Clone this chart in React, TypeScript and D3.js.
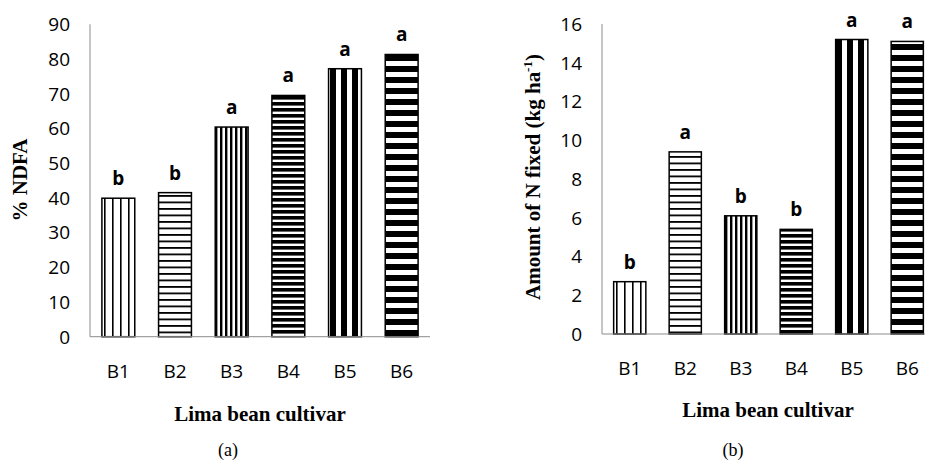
import React, { useEffect, useRef } from 'react';
import * as d3 from 'd3';

const cultivars = ['B1', 'B2', 'B3', 'B4', 'B5', 'B6'];
const ndfa = [39.9, 41.5, 60.4, 69.5, 77.2, 81.3];
const ndfaLetters = ['b', 'b', 'a', 'a', 'a', 'a'];
const nFixed = [2.7, 9.4, 6.1, 5.4, 15.2, 15.1];
const nFixedLetters = ['b', 'a', 'b', 'b', 'a', 'a'];
const ndfaTicks = [0, 10, 20, 30, 40, 50, 60, 70, 80, 90];
const nFixedTicks = [0, 2, 4, 6, 8, 10, 12, 14, 16];

// hatch per cultivar: direction, period, dark stripe width
const hatches = [
  { dir: 'v', period: 8, w: 1.6 },
  { dir: 'h', period: 6.5, w: 1.8 },
  { dir: 'v', period: 5, w: 2.4 },
  { dir: 'h', period: 6, w: 3.6 },
  { dir: 'v', period: 11, w: 6 },
  { dir: 'h', period: 11, w: 6 },
];

const tickFont = '"Open Sans", Roboto, sans-serif';
const serif = '"Liberation Serif", "Times New Roman", serif';

function drawPanel(svg, opts) {
  const { id, values, letters, ticks, domainMax, x0, x1, yTop, yBase } = opts;
  const defs = svg.append('defs');
  hatches.forEach((h, i) => {
    const p = defs.append('pattern')
      .attr('id', `${id}-hatch-${i}`)
      .attr('patternUnits', 'userSpaceOnUse')
      .attr('width', h.dir === 'v' ? h.period : 10)
      .attr('height', h.dir === 'h' ? h.period : 10);
    p.append('rect').attr('width', 20).attr('height', 20).attr('fill', '#fff');
    if (h.dir === 'v') {
      p.append('rect').attr('x', 0).attr('y', 0).attr('width', h.w).attr('height', 10).attr('fill', '#000');
    } else {
      p.append('rect').attr('x', 0).attr('y', 0).attr('width', 10).attr('height', h.w).attr('fill', '#000');
    }
  });

  const x = d3.scaleBand().domain(cultivars).range([x0, x1]).paddingInner(0.42).paddingOuter(0.21);
  const y = d3.scaleLinear().domain([0, domainMax]).range([yBase, yTop]);

  const g = svg.append('g');

  g.selectAll('.ytick').data(ticks).enter().append('text')
    .attr('x', x0 - 20)
    .attr('y', d => y(d))
    .attr('dy', '0.36em')
    .attr('text-anchor', 'end')
    .attr('font-family', tickFont)
    .attr('font-size', 19)
    .attr('fill', '#000')
    .text(d => d);

  g.selectAll('.bar').data(values).enter().append('rect')
    .attr('x', (d, i) => x(cultivars[i]))
    .attr('y', d => y(d))
    .attr('width', x.bandwidth())
    .attr('height', d => yBase - y(d))
    .attr('fill', (d, i) => `url(#${id}-hatch-${i})`)
    .attr('stroke', '#000')
    .attr('stroke-width', 1.5);

  g.selectAll('.letter').data(values).enter().append('text')
    .attr('x', (d, i) => x(cultivars[i]) + x.bandwidth() / 2)
    .attr('y', d => y(d) - 13)
    .attr('text-anchor', 'middle')
    .attr('font-family', tickFont)
    .attr('font-weight', 700)
    .attr('font-size', 19)
    .text((d, i) => letters[i]);

  g.append('line').attr('x1', x0).attr('x2', x0).attr('y1', yTop).attr('y2', yBase)
    .attr('stroke', '#8c8c8c').attr('stroke-width', 1);
  g.append('line').attr('x1', x0).attr('x2', x1).attr('y1', yBase).attr('y2', yBase)
    .attr('stroke', '#8c8c8c').attr('stroke-width', 1);

  g.selectAll('.xtick').data(cultivars).enter().append('text')
    .attr('x', d => x(d) + x.bandwidth() / 2)
    .attr('y', opts.xTickY)
    .attr('text-anchor', 'middle')
    .attr('font-family', tickFont)
    .attr('font-size', 19)
    .text(d => d);

  return g;
}

export default function App() {
  const svgRef = useRef(null);

  useEffect(() => {
    const svg = d3.select(svgRef.current);
    svg.selectAll('*').remove();

    const ga = drawPanel(svg, {
      id: 'a', values: ndfa, letters: ndfaLetters, ticks: ndfaTicks, domainMax: 90,
      x0: 90, x1: 430, yTop: 24.3, yBase: 336.7, xTickY: 378,
    });
    ga.append('text')
      .attr('transform', 'translate(27,180) rotate(-90)')
      .attr('text-anchor', 'middle')
      .attr('font-family', serif).attr('font-weight', 700).attr('font-size', 21)
      .text('% NDFA');
    ga.append('text')
      .attr('x', 260).attr('y', 420.5)
      .attr('text-anchor', 'middle')
      .attr('font-family', serif).attr('font-weight', 700).attr('font-size', 21)
      .text('Lima bean cultivar');
    ga.append('text')
      .attr('x', 228).attr('y', 456)
      .attr('text-anchor', 'middle')
      .attr('font-family', serif).attr('font-size', 18)
      .text('(a)');

    const gb = drawPanel(svg, {
      id: 'b', values: nFixed, letters: nFixedLetters, ticks: nFixedTicks, domainMax: 16,
      x0: 602, x1: 935, yTop: 24, yBase: 334, xTickY: 374.5,
    });
    const yt = gb.append('text')
      .attr('transform', 'translate(540,177) rotate(-90)')
      .attr('text-anchor', 'middle')
      .attr('font-family', serif).attr('font-weight', 700).attr('font-size', 21);
    yt.append('tspan').text('Amount of N fixed (kg ha');
    yt.append('tspan').attr('font-size', 13).attr('dy', -8).text('-1');
    yt.append('tspan').attr('dy', 8).text(')');
    gb.append('text')
      .attr('x', 768).attr('y', 416.5)
      .attr('text-anchor', 'middle')
      .attr('font-family', serif).attr('font-weight', 700).attr('font-size', 21)
      .text('Lima bean cultivar');
    gb.append('text')
      .attr('x', 733).attr('y', 456)
      .attr('text-anchor', 'middle')
      .attr('font-family', serif).attr('font-size', 18)
      .text('(b)');
  }, []);

  return (
    <svg
      ref={svgRef}
      width={925}
      height={460}
      style={{ position: 'absolute', left: 0, top: 0, background: '#fff' }}
    />
  );
}
